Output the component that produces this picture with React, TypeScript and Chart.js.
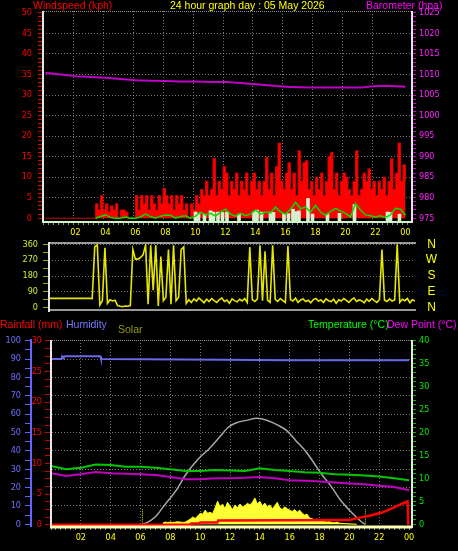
import { useEffect, useRef } from 'react';
import { Chart, registerables } from 'chart.js';

Chart.register(...registerables);

// ---------------- data ----------------
const chartTitle = '24 hour graph day : 05 May 2026';
const hourTickLabels = ['02', '04', '06', '08', '10', '12', '14', '16', '18', '20', '22', '00'];
const windTickLabels = [0, 5, 10, 15, 20, 25, 30, 35, 40, 45, 50];
const baroTickLabels = [975, 980, 985, 990, 995, 1000, 1005, 1010, 1015, 1020, 1025];
const dirTickLabels = [0, 90, 180, 270, 360];
const compassLabels = ['N', 'E', 'S', 'W', 'N'];
const humidityTickLabels = [0, 10, 20, 30, 40, 50, 60, 70, 80, 90, 100];
const rainTickLabels = [0, 5, 10, 15, 20, 25, 30];
const tempTickLabels = [0, 5, 10, 15, 20, 25, 30, 35, 40];

// barometer (hPa), hourly 00..24
const baroHpa = [1010.4, 1010.0, 1009.6, 1009.4, 1009.2, 1008.9, 1008.6, 1008.5, 1008.4, 1008.3, 1008.3, 1008.2, 1008.2,
  1007.9, 1007.6, 1007.3, 1007.0, 1006.9, 1006.8, 1006.8, 1006.8, 1006.8, 1007.2, 1007.2, 1007.0];

// gust (kph), every 10 minutes 00:00..24:00
const gustKph = [
  0, 0, 0, 0, 0, 0,
  0, 0, 0, 0, 0, 0,
  0, 0, 0, 0, 0, 0,
  0, 0, 3.5, 2, 5.5, 2,
  3.5, 1.5, 3, 2, 3.5, 0,
  2, 2, 1.5, 0, 0, 0,
  5.5, 2, 5.5, 3.5, 5.5, 2,
  5.5, 3.5, 2, 5.5, 3.5, 7.3,
  5.5, 3.5, 5.5, 2, 5.5, 3.5,
  5.5, 2, 3.5, 0, 3.5, 2,
  5.5, 3.5, 7, 5.5, 9, 5.5,
  7, 14.6, 5.5, 9, 7, 12.6,
  11, 5.5, 9, 7, 11, 5.5,
  9, 7, 11, 5.5, 9, 11,
  7, 9, 5.5, 9, 14.8, 7,
  11, 5.5, 12.6, 18.3, 9, 7,
  11, 13.5, 7, 11, 5.5, 16.4,
  9, 13.5, 14, 7, 9, 5.5,
  10, 7, 11, 5.5, 9, 15,
  16, 7, 11, 5.5, 9, 11,
  10, 7, 5.5, 9, 16.4, 5.5,
  7, 11, 9, 12, 7, 9,
  5.5, 9, 7, 10, 5.5, 9,
  14.5, 7, 11, 18.3, 9, 13,
  9,
];

// average wind (kph), every 20 minutes from 03:20 to 24:00
const avgWindStartHour = 10 / 3;
const avgWindKph = [
  0, 0.4,
  0.8, 0.2, 0, 0, 0.3, 0, 0, 0.3, 1.0, 0.4, 0, 0.5,
  0.8, 0.7, 0, 0.4, 0.6, 0, 0.5, 1.5, 0.8, 1.2, 0.5, 1.5,
  2.2, 1.0, 0.5, 1.2, 0.6, 1.0, 2.0, 1.0, 1.5, 1.3, 2.7, 1.5,
  1.0, 2.2, 3.9, 2.3, 2.7, 1.5, 3.1, 1.5, 0.7, 1.6, 2.4, 1.8,
  1.2, 0.3, 3.6, 2.0, 0.8, 0.6, 0.3, 0.6, 0.2, 0.8, 2.4, 2.2,
  0.7,
];

// wind speed bars (kph)
const windBarHours = [10.0, 10.2, 10.6, 11.0, 11.2, 11.5, 11.8, 12.1, 12.9, 13.9, 14.1, 14.4, 15.0, 15.2, 15.9, 16.2,
  16.5, 16.7, 16.9, 17.5, 17.8, 18.8, 19.6, 20.6, 22.8, 23.0, 23.6];
const windBarKph = [1.5, 1.2, 1.0, 1.8, 1.5, 1.5, 1.4, 1.5, 1.0, 1.6, 2.0, 1.5, 1.5, 1.4, 1.2, 1.1,
  2.2, 1.6, 1.8, 4.8, 1.0, 1.0, 1.2, 3.3, 1.5, 1.4, 1.0];

// wind direction (deg), every 10 minutes 00:00..24:00
const windDirDeg = [
  53, 53, 53, 53, 53, 53, 53, 53, 53, 53, 53, 53,
  53, 53, 53, 53, 53, 52, 345, 358, 15, 40, 340, 25,
  45, 38, 42, 12, 8, 6, 10, 8, 12, 330, 276, 276,
  285, 300, 355, 20, 355, 100, 355, 10, 290, 40, 60, 330,
  20, 355, 40, 60, 330, 345, 25,
  45, 30, 50, 38, 55, 42, 28, 48, 35, 52,
  40, 30, 46, 55, 36, 44, 25, 50, 40, 33,
  48, 38, 52, 30, 345, 45, 35, 50, 355, 40,
  320, 42, 30, 355, 48, 36, 52, 40, 30, 350,
  45, 38, 55, 30, 44, 50, 35, 42, 28, 46,
  52, 38, 44, 30, 50, 40, 35, 48, 25, 45,
  38, 52, 42, 30, 46, 55, 35, 44, 40, 28,
  48, 36, 52, 40, 30, 45, 330, 42, 35, 50,
  38, 44, 360, 30, 48, 40, 52, 28, 45, 38,
];

// temperature / dew point (°C), hourly 00..24
const tempC = [12.7, 12.0, 12.3, 13.0, 12.9, 12.5, 12.5, 12.3, 12.0, 11.6, 11.6, 11.8, 11.7,
  11.6, 12.2, 11.8, 11.6, 11.3, 11.2, 10.9, 10.8, 10.6, 10.4, 10.0, 9.6];
const dewC = [11.1, 10.5, 10.9, 11.4, 11.1, 11.0, 10.9, 10.7, 10.3, 9.8, 9.8, 10.0, 10.0,
  10.1, 10.3, 10.0, 9.6, 9.5, 9.3, 9.1, 8.9, 8.7, 8.4, 8.1, 7.4];

// humidity (%)
const humidityHours = [0, 0.7, 0.75, 0.85, 0.9, 3.3, 3.35, 11.5, 16.0, 24.0];
const humidityPct = [90, 90, 91.5, 90.5, 91.5, 91.5, 90, 89.6, 89.4, 89.4];

// rainfall (mm, cumulative)
const rainHours = [0, 9.3, 9.4, 9.95, 10.0, 11.15, 11.2, 20.0, 20.4, 20.8, 21.4, 22.2, 22.9, 23.6, 23.9, 23.95];
const rainMm = [0, 0, 0.2, 0.2, 0.35, 0.35, 0.7, 0.75, 1.0, 1.2, 1.5, 2.0, 2.7, 3.5, 3.8, 0];

// theoretical solar (W/m²)
const solarMaxHours = [6.1, 6.5, 7.0, 7.7, 8.4, 9.0, 9.9, 10.6, 11.3, 11.9, 12.5, 13.1, 13.8, 14.5, 15.2, 15.8,
  16.4, 17.0, 17.5, 18.1, 18.8, 19.4, 20.1, 20.8, 21.05];
const solarMaxWm2 = [0, 12, 41, 114, 186, 267, 358, 412, 475, 530, 555, 566, 577, 565, 540, 510,
  457, 405, 349, 277, 204, 132, 68, 14, 0];

// measured solar (W/m²), every 10 minutes from 07:30
const solarStartHour = 7.5;
const solarWm2 = [
  8, 12, 10,
  12, 10, 12, 14, 12, 10,
  12, 20, 28, 40, 32, 45,
  60, 55, 77, 60, 65, 58,
  90, 126, 95, 110, 85, 120,
  100, 80, 105, 90, 110, 95,
  100, 115, 105, 120, 143, 110,
  125, 100, 115, 95, 105, 85,
  100, 120, 90, 80, 95, 85,
  77, 70, 80, 65, 77, 60,
  50, 55, 34, 30, 25, 28,
  23, 20, 15, 12, 14, 10,
  8, 12, 6, 5, 4, 3,
  2, 2, 1, 0,
];
const sunriseHour = 6.13;
const sunsetHour = 21.07;
const sunMarkerWm2 = 83;

// ---------------- helpers ----------------
const NARROW = '"Liberation Sans Narrow", "Arial Narrow", "DejaVu Sans Condensed", "Liberation Sans", sans-serif';
const SANS = '"Liberation Sans", Arial, sans-serif';
const GRID = '#7a7a7a';

const everyStep = (vals: number[], start: number, step: number) => vals.map((y, i) => ({ x: start + i * step, y }));
const pairs = (xs: number[], ys: number[]) => xs.map((x, i) => ({ x, y: ys[i] }));
const near = (a: number, b: number) => Math.abs(a - b) < 1e-6;

const setTicks = (from: number, to: number, step: number) => (axis: any) => {
  const t: { value: number }[] = [];
  const n = Math.round((to - from) / step);
  for (let k = 0; k <= n; k++) t.push({ value: Math.round((from + k * step) * 1e6) / 1e6 });
  axis.ticks = t;
};

const hourLabel = (v: number) => {
  const r = Math.round(v);
  if (!near(v, r) || r % 2 !== 0 || r === 0) return '';
  return hourTickLabels[r / 2 - 1] ?? '';
};
const isGridHour = (v: number) => {
  if (v == null) return false;
  const r = Math.round(v);
  return near(v, r) && r % 2 === 0 && r > 0 && r < 24;
};

const xAxis = (max: number, height: number, pad: number) => ({
  type: 'linear',
  position: 'bottom',
  min: 0,
  max,
  afterBuildTicks: setTicks(0, 24, 1 / 3),
  afterFit: (a: any) => { a.height = height; a.paddingLeft = 0; a.paddingRight = 0; },
  ticks: {
    autoSkip: false, maxRotation: 0, minRotation: 0, color: '#ffff00', padding: pad,
    font: { family: NARROW, size: 9 },
    callback: (v: any) => hourLabel(Number(v)),
  },
  grid: {
    color: (c: any) => (isGridHour(c.tick?.value) ? GRID : 'transparent'),
    lineWidth: 1, tickColor: '#8a8a8a', tickLength: 4, tickWidth: 1,
  },
  border: { display: false, dash: [1, 2] },
});

const yAxis = (o: {
  position: string; min: number; max: number; from: number; to: number; step: number; labels: number[];
  gridAt?: number[]; width: number; color: string; tickColor: string; tickLength: number; pad: number;
  weight?: number; fontSize?: number; border?: any;
}) => ({
  type: 'linear',
  position: o.position,
  min: o.min,
  max: o.max,
  weight: o.weight ?? 0,
  afterBuildTicks: setTicks(o.from, o.to, o.step),
  afterFit: (a: any) => { a.width = o.width; a.paddingTop = 0; a.paddingBottom = 0; },
  ticks: {
    autoSkip: false, color: o.color, padding: o.pad,
    font: { family: NARROW, size: o.fontSize ?? 9 },
    callback: (v: any) => {
      const n = Number(v);
      return o.labels.some((l) => near(l, n)) ? String(n) : '';
    },
  },
  grid: {
    drawOnChartArea: !!o.gridAt,
    color: (c: any) => (o.gridAt && o.gridAt.some((g) => near(g, c.tick?.value)) ? GRID : 'transparent'),
    tickColor: o.tickColor, tickLength: o.tickLength, tickWidth: 1, lineWidth: 1,
  },
  border: { display: false, dash: [1, 2], ...(o.border || {}) },
});

type Edge = { side: 'left' | 'right' | 'top' | 'bottom'; color: string; width: number; shift: number; dash?: number[] };
const framePlugin = (edges: Edge[]) => ({
  id: 'frame',
  afterDatasetsDraw(chart: any) {
    const { ctx, chartArea: a } = chart;
    ctx.save();
    edges.forEach((e) => {
      ctx.beginPath();
      ctx.strokeStyle = e.color;
      ctx.lineWidth = e.width;
      ctx.setLineDash(e.dash ?? []);
      if (e.side === 'left' || e.side === 'right') {
        const x = (e.side === 'left' ? a.left : a.right) + e.shift;
        ctx.moveTo(x, a.top);
        ctx.lineTo(x, a.bottom + 2);
      } else {
        const y = (e.side === 'top' ? a.top : a.bottom) + e.shift;
        ctx.moveTo(a.left - 1, y);
        ctx.lineTo(a.right + 1, y);
      }
      ctx.stroke();
    });
    ctx.restore();
  },
});

// compass letters beside the direction scale, positioned by the scale itself
const compassPlugin = {
  id: 'compass',
  afterDraw(chart: any) {
    const s = chart.scales.yDir;
    const { ctx, chartArea: a } = chart;
    ctx.save();
    ctx.fillStyle = '#ffff00';
    ctx.font = `12px ${SANS}`;
    ctx.textAlign = 'center';
    ctx.textBaseline = 'middle';
    dirTickLabels.forEach((v, i) => ctx.fillText(compassLabels[i], a.right + 16.5, s.getPixelForValue(v)));
    ctx.restore();
  },
};

const commonOptions = (padding: any) => ({
  responsive: false,
  animation: false,
  devicePixelRatio: 1,
  layout: { padding },
  plugins: { legend: { display: false }, tooltip: { enabled: false }, title: { display: false } },
  elements: { point: { radius: 0 }, line: { tension: 0 } },
  events: [],
});

function Label(p: { x: number; y: number; color: string; size?: number; text: string }) {
  const size = p.size ?? 10.5;
  return (
    <div style={{
      position: 'absolute', left: p.x, top: p.y, color: p.color, fontSize: size, lineHeight: `${size}px`,
      whiteSpace: 'nowrap', fontFamily: SANS,
    }}>{p.text}</div>
  );
}

export default function App() {
  const c1 = useRef<HTMLCanvasElement>(null);
  const c2 = useRef<HTMLCanvasElement>(null);
  const c3 = useRef<HTMLCanvasElement>(null);

  useEffect(() => {
    Chart.defaults.font.family = SANS;

    // ---------- wind speed / barometer ----------
    const windChart = new Chart(c1.current as HTMLCanvasElement, {
      type: 'line',
      data: {
        datasets: [
          { type: 'line', yAxisID: 'yBaro', data: everyStep(baroHpa, 0, 1), borderColor: '#c000c8', borderWidth: 2, pointRadius: 0 },
          { type: 'line', yAxisID: 'yWind', data: everyStep(avgWindKph, avgWindStartHour, 1 / 3), borderColor: '#00dd00', borderWidth: 1.5, pointRadius: 0 },
          { type: 'bar', yAxisID: 'yWind', data: pairs(windBarHours, windBarKph), backgroundColor: '#d4f2cf', barThickness: 3, base: -0.68 },
          {
            type: 'line', yAxisID: 'yWind', data: everyStep(gustKph, 0, 1 / 6), borderColor: '#d80000', backgroundColor: '#ff0000',
            borderWidth: 1, pointRadius: 0, fill: 'origin', stepped: true,
          },
        ] as any,
      },
      options: {
        ...commonOptions({ top: 11, left: 0, right: 0, bottom: 0 }),
        scales: {
          x: xAxis(24.2, 19, 2),
          yWind: yAxis({
            position: 'left', min: -0.68, max: 50.46, from: 0, to: 50, step: 1, labels: windTickLabels,
            gridAt: [5, 10, 15, 20, 25, 30, 35, 40, 45], width: 43, color: '#ff0000', tickColor: '#cc0000', tickLength: 5, pad: 6,
          }),
          yBaro: yAxis({
            position: 'right', min: 974.32, max: 1025.46, from: 975, to: 1025, step: 1, labels: baroTickLabels,
            width: 47, color: '#ff20ff', tickColor: '#cc00cc', tickLength: 5, pad: 3,
          }),
        } as any,
      } as any,
      plugins: [framePlugin([
        { side: 'top', color: '#909090', width: 1, shift: 0.5, dash: [1, 1] },
        { side: 'left', color: '#e8e8e8', width: 2, shift: 0 },
        { side: 'right', color: '#e8e8e8', width: 2, shift: 1 },
        { side: 'bottom', color: '#cdf5c8', width: 2, shift: 1 },
      ])],
    });

    // ---------- wind direction ----------
    const dirChart = new Chart(c2.current as HTMLCanvasElement, {
      type: 'line',
      data: {
        datasets: [
          { type: 'line', yAxisID: 'yDir', data: everyStep(windDirDeg, 0, 1 / 6), borderColor: '#e6e600', borderWidth: 1.6, pointRadius: 0 },
        ] as any,
      },
      options: {
        ...commonOptions({ top: 6, left: 0, right: 43, bottom: 6 }),
        scales: {
          x: { type: 'linear', min: 0, max: 24, display: false },
          yDir: yAxis({
            position: 'left', min: -13, max: 373, from: 0, to: 360, step: 45, labels: dirTickLabels,
            gridAt: [90, 180, 270, 360], width: 49, color: '#ccee33', tickColor: '#a8a800', tickLength: 6, pad: 5,
          }),
        } as any,
      } as any,
      plugins: [framePlugin([
        { side: 'top', color: '#9a9a9a', width: 2, shift: 1 },
        { side: 'bottom', color: '#9a9a9a', width: 2, shift: 0 },
        { side: 'left', color: '#e8e8e8', width: 2, shift: 0 },
      ]), compassPlugin],
    });

    // ---------- rain / humidity / solar / temperature ----------
    const sunMarker = (h: number) => [{ x: h, y: 0 }, { x: h, y: sunMarkerWm2 }];
    const tempChart = new Chart(c3.current as HTMLCanvasElement, {
      type: 'line',
      data: {
        datasets: [
          { type: 'line', yAxisID: 'yRain', data: pairs(rainHours, rainMm), borderColor: '#ff0000', borderWidth: 2.5, pointRadius: 0 },
          { type: 'line', yAxisID: 'yTemp', data: everyStep(tempC, 0, 1), borderColor: '#00c800', borderWidth: 2, pointRadius: 0 },
          { type: 'line', yAxisID: 'yTemp', data: everyStep(dewC, 0, 1), borderColor: '#c000c0', borderWidth: 2, pointRadius: 0 },
          { type: 'line', yAxisID: 'yHum', data: pairs(humidityHours, humidityPct), borderColor: '#6868e8', borderWidth: 2, pointRadius: 0 },
          { type: 'line', yAxisID: 'ySolar', data: pairs(solarMaxHours, solarMaxWm2), borderColor: '#a8a8a8', borderWidth: 1.5, pointRadius: 0, cubicInterpolationMode: 'monotone' },
          { type: 'line', yAxisID: 'ySolar', data: sunMarker(sunriseHour), borderColor: '#e0e000', borderWidth: 1, borderDash: [1, 1], pointRadius: 0 },
          { type: 'line', yAxisID: 'ySolar', data: sunMarker(sunsetHour), borderColor: '#e0e000', borderWidth: 1, borderDash: [1, 1], pointRadius: 0 },
          {
            type: 'line', yAxisID: 'ySolar', data: everyStep(solarWm2, solarStartHour, 1 / 6), borderColor: '#ffff00',
            backgroundColor: '#ffff33', borderWidth: 1, pointRadius: 0, fill: 'origin',
          },
        ] as any,
      },
      options: {
        ...commonOptions({ top: 24, left: 0, right: 0, bottom: 0 }),
        scales: {
          x: xAxis(24.13, 25, 2),
          yHum: yAxis({
            position: 'left', weight: 2, min: -0.93, max: 100.38, from: 0, to: 100, step: 5, labels: humidityTickLabels,
            gridAt: [10, 20, 30, 40, 50, 60, 70, 80, 90], width: 31, color: '#7070ff', tickColor: '#6464ff', tickLength: 6, pad: 4,
            border: { display: true, color: '#6464ff', width: 2 },
          }),
          yRain: yAxis({
            position: 'left', weight: 1, min: -0.21, max: 30.11, from: 0, to: 30, step: 1.25, labels: rainTickLabels,
            width: 20, color: '#ff0000', tickColor: '#cc0000', tickLength: 6, pad: 3,
          }),
          yTemp: yAxis({
            position: 'right', min: -0.37, max: 40.09, from: 0, to: 40, step: 1, labels: tempTickLabels,
            width: 47, color: '#00ee00', tickColor: '#00bb00', tickLength: 5, pad: 3,
          }),
          ySolar: { type: 'linear', display: false, min: -9.3, max: 1003.8 },
        } as any,
      } as any,
      plugins: [framePlugin([
        { side: 'top', color: '#909090', width: 1, shift: 0.5, dash: [1, 1] },
        { side: 'left', color: '#e8e8e8', width: 2, shift: 0 },
        { side: 'right', color: '#e8e8e8', width: 2, shift: 1 },
        { side: 'bottom', color: '#ffffb8', width: 3, shift: 1 },
      ])],
    });

    return () => {
      windChart.destroy();
      dirChart.destroy();
      tempChart.destroy();
    };
  }, []);

  return (
    <div style={{ position: 'fixed', left: 0, top: 0, width: 458, height: 551, background: '#000', overflow: 'hidden' }}>
      <canvas ref={c1} width={458} height={240} style={{ position: 'absolute', left: 0, top: 0 }} />
      <canvas ref={c2} width={458} height={80} style={{ position: 'absolute', left: 0, top: 236 }} />
      <canvas ref={c3} width={458} height={235} style={{ position: 'absolute', left: 0, top: 316 }} />
      <Label x={33} y={0} color="#ff0000" text="Windspeed (kph)" />
      <Label x={170} y={0} color="#ffff00" text={chartTitle} />
      <Label x={366} y={0} color="#ff00ff" text="Barometer (hpa)" />
      <Label x={0} y={319} color="#ff0000" text="Rainfall (mm)" />
      <Label x={66} y={319} color="#7878ff" text="Humidity" />
      <Label x={118} y={324} color="#9a9a14" text="Solar" />
      <Label x={308} y={319} color="#00ff00" text="Temperature (°C)" />
      <Label x={387} y={319} color="#ff00ff" text="Dew Point (°C)" />
    </div>
  );
}
